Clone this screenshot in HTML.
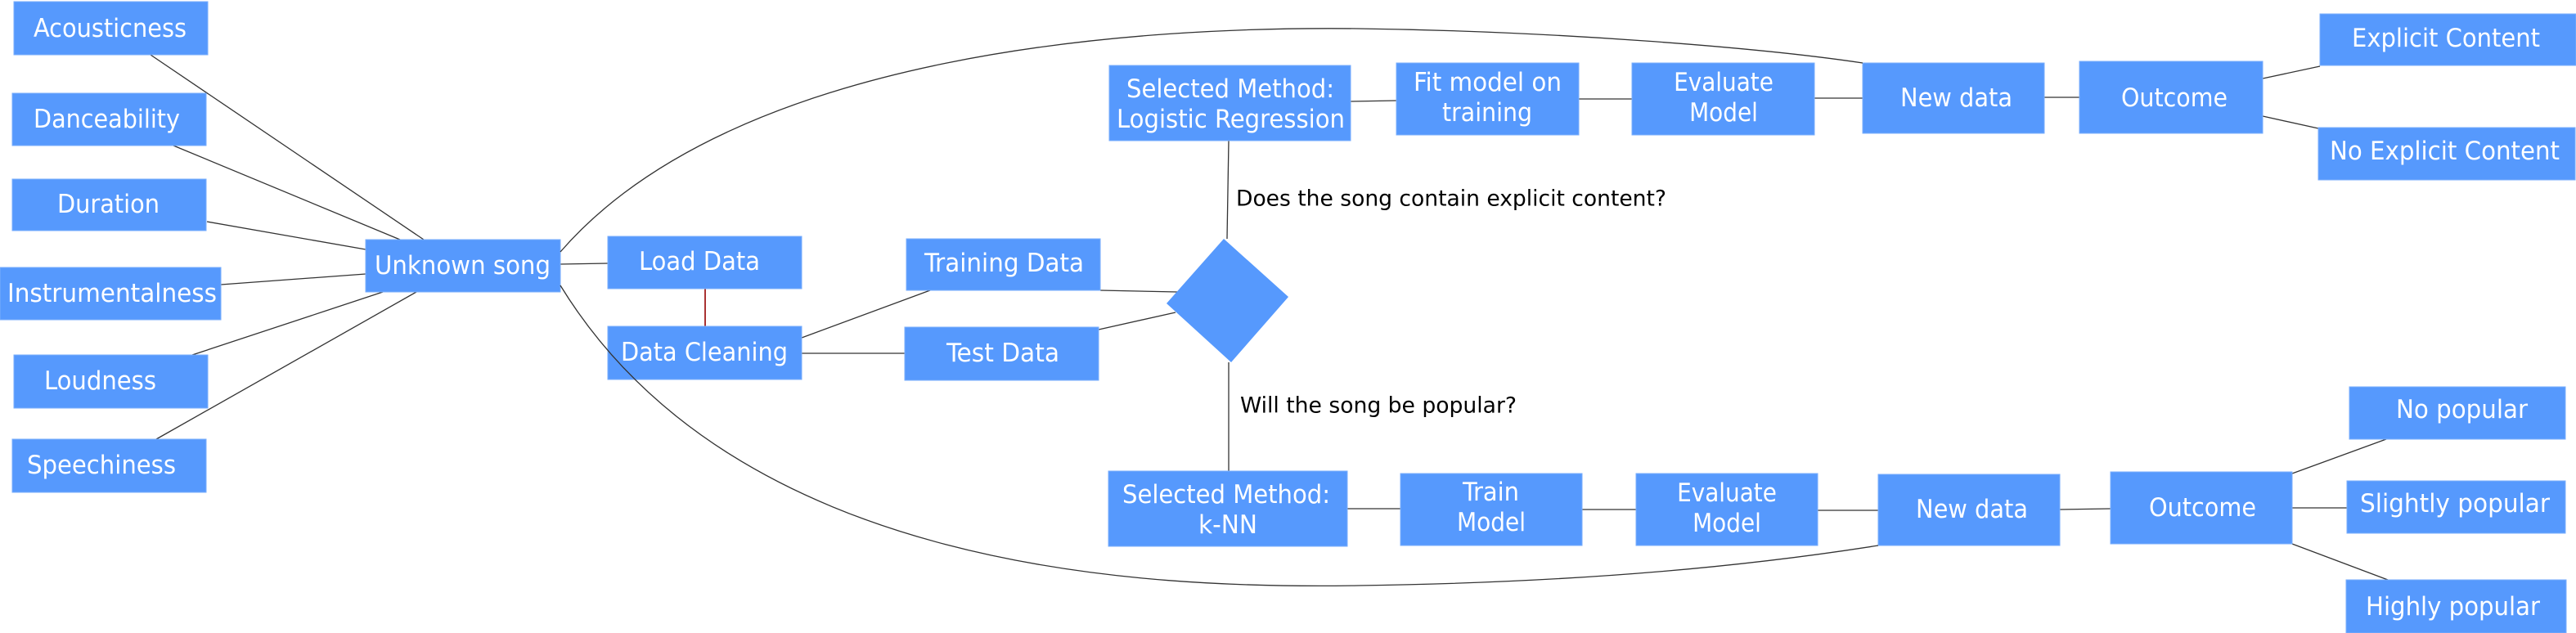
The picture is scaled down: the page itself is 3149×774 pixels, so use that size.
<!DOCTYPE html>
<html><head><meta charset="utf-8"><style>
html,body{margin:0;padding:0;background:#fff;}
svg{display:block;}
text{font-family:"DejaVu Sans Condensed","DejaVu Sans","Liberation Sans",sans-serif;}
.b{fill:#5699fd;stroke:#7aaefc;stroke-width:1;}
.w{fill:#fff;font-size:31px;}
.k{fill:#000;font-size:27px;}
.l{stroke:#333;stroke-width:1.3;fill:none;}
</style></head><body>
<svg width="3149" height="774" viewBox="0 0 3149 774" xmlns="http://www.w3.org/2000/svg">
<g class="l">
<line x1="184" y1="67" x2="518" y2="293"/>
<line x1="212" y1="178" x2="489" y2="293"/>
<line x1="253" y1="271" x2="447" y2="305"/>
<line x1="270" y1="348" x2="447" y2="335"/>
<line x1="235" y1="434" x2="468" y2="357"/>
<line x1="191" y1="537" x2="509" y2="357"/>
<line x1="685" y1="323" x2="743" y2="322"/>
<line x1="980" y1="413" x2="1137" y2="355"/>
<line x1="980" y1="432" x2="1106" y2="432"/>
<line x1="1345" y1="355" x2="1440" y2="357"/>
<line x1="1343" y1="403" x2="1437" y2="382"/>
<line x1="1502" y1="172" x2="1500" y2="292"/>
<line x1="1502" y1="443" x2="1502" y2="576"/>
<line x1="1651" y1="124" x2="1707" y2="123"/>
<line x1="1930" y1="121" x2="1995" y2="121"/>
<line x1="2218" y1="120" x2="2277" y2="120"/>
<line x1="2499" y1="119" x2="2542" y2="119"/>
<line x1="2766" y1="96" x2="2836" y2="81"/>
<line x1="2766" y1="142" x2="2834" y2="157"/>
<line x1="1647" y1="622" x2="1712" y2="622"/>
<line x1="1934" y1="623" x2="2000" y2="623"/>
<line x1="2222" y1="624" x2="2296" y2="624"/>
<line x1="2518" y1="623" x2="2580" y2="622"/>
<line x1="2802" y1="579" x2="2917" y2="537"/>
<line x1="2802" y1="621" x2="2869" y2="621"/>
<line x1="2802" y1="665" x2="2919" y2="709"/>
</g>
<line x1="862" y1="353" x2="862" y2="399" stroke="#a33" stroke-width="2"/>
<rect class="b" x="17" y="2" width="237" height="65"/>
<rect class="b" x="15" y="114" width="237" height="64"/>
<rect class="b" x="15" y="219" width="237" height="63"/>
<rect class="b" x="0" y="327" width="270" height="64"/>
<rect class="b" x="17" y="434" width="237" height="65"/>
<rect class="b" x="15" y="537" width="237" height="65"/>
<rect class="b" x="447" y="293" width="238" height="64"/>
<rect class="b" x="743" y="289" width="237" height="64"/>
<rect class="b" x="743" y="399" width="237" height="65"/>
<rect class="b" x="1108" y="292" width="237" height="63"/>
<rect class="b" x="1106" y="400" width="237" height="65"/>
<polygon fill="#5699fd" points="1496,292 1575,363 1505,443 1426,371"/>
<rect class="b" x="1356" y="80" width="295" height="92"/>
<rect class="b" x="1707" y="77" width="223" height="88"/>
<rect class="b" x="1995" y="77" width="223" height="88"/>
<rect class="b" x="2277" y="77" width="222" height="86"/>
<rect class="b" x="2542" y="75" width="224" height="88"/>
<rect class="b" x="2836" y="17" width="313" height="63"/>
<rect class="b" x="2834" y="156" width="314" height="64"/>
<rect class="b" x="1355" y="576" width="292" height="92"/>
<rect class="b" x="1712" y="579" width="222" height="88"/>
<rect class="b" x="2000" y="579" width="222" height="88"/>
<rect class="b" x="2296" y="580" width="222" height="87"/>
<rect class="b" x="2580" y="577" width="222" height="88"/>
<rect class="b" x="2872" y="473" width="264" height="64"/>
<rect class="b" x="2869" y="588" width="267" height="64"/>
<rect class="b" x="2868" y="709" width="269" height="65"/>
<g class="l">
<path d="M685,308 C900,60 1400,32 1660,35 C1900,38 2150,58 2277,77"/>
<path d="M685,349 C900,700 1400,720 1660,716 C1950,712 2150,690 2296,667"/>
</g>
<g class="w" dominant-baseline="central">
<text x="41" y="35" textLength="187" lengthAdjust="spacingAndGlyphs">Acousticness</text>
<text x="41" y="146" textLength="179" lengthAdjust="spacingAndGlyphs">Danceability</text>
<text x="70" y="250" textLength="125" lengthAdjust="spacingAndGlyphs">Duration</text>
<text x="9" y="359" textLength="256" lengthAdjust="spacingAndGlyphs">Instrumentalness</text>
<text x="54" y="466" textLength="137" lengthAdjust="spacingAndGlyphs">Loudness</text>
<text x="33" y="569" textLength="182" lengthAdjust="spacingAndGlyphs">Speechiness</text>
<text x="458" y="325" textLength="215" lengthAdjust="spacingAndGlyphs">Unknown song</text>
<text x="781" y="320" textLength="148" lengthAdjust="spacingAndGlyphs">Load Data</text>
<text x="759" y="431" textLength="204" lengthAdjust="spacingAndGlyphs">Data Cleaning</text>
<text x="1130" y="322" textLength="195" lengthAdjust="spacingAndGlyphs">Training Data</text>
<text x="1157" y="432" textLength="138" lengthAdjust="spacingAndGlyphs">Test Data</text>
<text x="1377" y="109" textLength="254" lengthAdjust="spacingAndGlyphs">Selected Method:</text>
<text x="1365" y="146" textLength="279" lengthAdjust="spacingAndGlyphs">Logistic Regression</text>
<text x="1728" y="101" textLength="181" lengthAdjust="spacingAndGlyphs">Fit model on</text>
<text x="1763" y="138" textLength="110" lengthAdjust="spacingAndGlyphs">training</text>
<text x="2107" y="101" text-anchor="middle">Evaluate</text>
<text x="2107" y="138" text-anchor="middle">Model</text>
<text x="2323" y="120" textLength="137" lengthAdjust="spacingAndGlyphs">New data</text>
<text x="2593" y="120" textLength="130" lengthAdjust="spacingAndGlyphs">Outcome</text>
<text x="2875" y="47" textLength="230" lengthAdjust="spacingAndGlyphs">Explicit Content</text>
<text x="2848" y="185" textLength="281" lengthAdjust="spacingAndGlyphs">No Explicit Content</text>
<text x="1372" y="605" textLength="254" lengthAdjust="spacingAndGlyphs">Selected Method:</text>
<text x="1465" y="642" textLength="72" lengthAdjust="spacingAndGlyphs">k-NN</text>
<text x="1788" y="602" textLength="69" lengthAdjust="spacingAndGlyphs">Train</text>
<text x="1781" y="639" textLength="84" lengthAdjust="spacingAndGlyphs">Model</text>
<text x="2111" y="603" text-anchor="middle">Evaluate</text>
<text x="2111" y="640" text-anchor="middle">Model</text>
<text x="2342" y="623" textLength="137" lengthAdjust="spacingAndGlyphs">New data</text>
<text x="2627" y="621" textLength="131" lengthAdjust="spacingAndGlyphs">Outcome</text>
<text x="2929" y="501" textLength="161" lengthAdjust="spacingAndGlyphs">No popular</text>
<text x="2885" y="616" textLength="232" lengthAdjust="spacingAndGlyphs">Slightly popular</text>
<text x="2892" y="742" textLength="213" lengthAdjust="spacingAndGlyphs">Highly popular</text>
</g>
<g class="k" dominant-baseline="central">
<text x="1511" y="243" textLength="526" lengthAdjust="spacingAndGlyphs">Does the song contain explicit content?</text>
<text x="1516" y="496" textLength="338" lengthAdjust="spacingAndGlyphs">Will the song be popular?</text>
</g>
</svg>
</body></html>
